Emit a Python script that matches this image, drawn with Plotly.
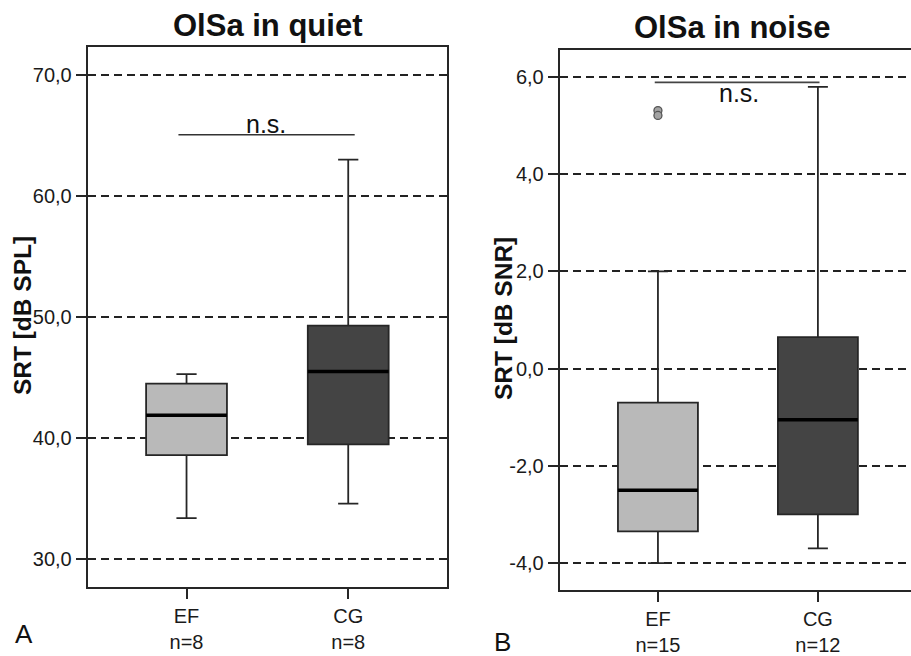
import plotly.graph_objects as go

# ---------------- data ----------------
groups = ["EF", "CG"]
quiet_labels = ["EF<br>n=8", "CG<br>n=8"]
noise_labels = ["EF<br>n=15", "CG<br>n=12"]

quiet_lower = [33.4, 34.6]
quiet_q1 = [38.6, 39.5]
quiet_median = [41.9, 45.5]
quiet_q3 = [44.5, 49.3]
quiet_upper = [45.3, 63.0]

noise_lower = [-4.0, -3.7]
noise_q1 = [-3.35, -3.0]
noise_median = [-2.5, -1.05]
noise_q3 = [-0.7, 0.65]
noise_upper = [2.0, 5.8]

noise_outliers_ef = [5.31, 5.21]

quiet_ticks = [30, 40, 50, 60, 70]
quiet_ticktext = ["30,0", "40,0", "50,0", "60,0", "70,0"]
noise_ticks = [-4, -2, 0, 2, 4, 6]
noise_ticktext = ["-4,0", "-2,0", "0,0", "2,0", "4,0", "6,0"]

ns_quiet = dict(x0=-0.05, x1=1.04, y=65.05, text_y=65.97)
ns_noise = dict(x0=-0.02, x1=1.01, y=5.89, text_y=5.675)

fills = ["#b9b9b9", "#444444"]
edge = "#262626"
FONT = "Liberation Sans, Arial, sans-serif"
BOX_W = 0.5

fig = go.Figure()

def add_panel(xa, ya, lower, q1, med, q3, upper):
    for i, g in enumerate(groups):
        fig.add_trace(go.Box(
            x=[i], q1=[q1[i]], median=[med[i]], q3=[q3[i]],
            lowerfence=[lower[i]], upperfence=[upper[i]],
            width=BOX_W, whiskerwidth=0.25, boxpoints=False,
            fillcolor=fills[i], line=dict(color=edge, width=1.8),
            xaxis=xa, yaxis=ya, showlegend=False, name=g))
        fig.add_trace(go.Scatter(
            x=[i - BOX_W / 2, i + BOX_W / 2], y=[med[i], med[i]],
            mode="lines", line=dict(color="#000000", width=3.5),
            xaxis=xa, yaxis=ya, showlegend=False, hoverinfo="skip"))

add_panel("x", "y", quiet_lower, quiet_q1, quiet_median, quiet_q3, quiet_upper)
add_panel("x2", "y2", noise_lower, noise_q1, noise_median, noise_q3, noise_upper)

fig.add_trace(go.Scatter(
    x=[0] * len(noise_outliers_ef), y=noise_outliers_ef, mode="markers",
    marker=dict(size=8, color="#a3a3a3", line=dict(color="#555555", width=1.3)),
    xaxis="x2", yaxis="y2", showlegend=False))

# significance lines
fig.add_trace(go.Scatter(x=[ns_quiet["x0"], ns_quiet["x1"]], y=[ns_quiet["y"]] * 2,
                         mode="lines", line=dict(color="#333333", width=1.6),
                         xaxis="x", yaxis="y", showlegend=False))
fig.add_trace(go.Scatter(x=[ns_noise["x0"], ns_noise["x1"]], y=[ns_noise["y"]] * 2,
                         mode="lines", line=dict(color="#444444", width=1.8),
                         xaxis="x2", yaxis="y2", showlegend=False))

axis_common = dict(showline=True, linecolor=edge, linewidth=2, ticks="outside",
                   ticklen=10, tickwidth=1.5, tickcolor=edge, zeroline=False,
                   tickfont=dict(family=FONT, size=20, color="#1a1a1a"))

grid = dict(showgrid=True, gridcolor="#222222", gridwidth=1.5, griddash="8px,5px")

fig.update_layout(
    width=911, height=656, margin=dict(l=0, r=0, t=0, b=0),
    paper_bgcolor="white", plot_bgcolor="white",
    xaxis=dict(domain=[0.0963, 0.4907], range=[-0.611, 1.611], tickvals=[0, 1],
               ticktext=quiet_labels, mirror=True, showgrid=False, anchor="y", **axis_common),
    yaxis=dict(domain=[0.0945, 0.9268], range=[27.74, 72.26], tickvals=quiet_ticks,
               ticktext=quiet_ticktext, mirror=True, anchor="x", **grid, **axis_common),
    xaxis2=dict(domain=[0.6144, 1.0], range=[-0.614, 1.582], tickvals=[0, 1],
                ticktext=noise_labels, mirror=True, showgrid=False, anchor="y2", **axis_common),
    yaxis2=dict(domain=[0.0889, 0.9227], range=[-4.563, 6.555], tickvals=noise_ticks,
                ticktext=noise_ticktext, mirror=False, anchor="x2", **grid, **axis_common),
)

def pann(text, x, y, size, angle=0):
    return dict(text=text, x=x / 911, y=1 - y / 656, xref="paper", yref="paper",
                xanchor="center", yanchor="middle", textangle=angle, showarrow=False,
                font=dict(family=FONT, size=size, color="#111"))

ann = [
    pann("<b>OlSa in quiet</b>", 267, 26, 31),
    pann("<b>OlSa in noise</b>", 732, 28, 31),
    pann("<b>SRT [dB SPL]</b>", 22, 320, 24.5, -90),
    pann("<b>SRT [dB SNR]</b>", 503, 322, 24.5, -90),
    pann("A", 23.5, 642, 26),
    pann("B", 502, 650, 26),
]
ann.append(dict(text="n.s.", x=0.49, y=ns_quiet["text_y"], xref="x", yref="y",
                xanchor="center", yanchor="middle",
                showarrow=False, font=dict(family=FONT, size=25, color="#111")))
ann.append(dict(text="n.s.", x=0.507, y=ns_noise["text_y"], xref="x2", yref="y2",
                xanchor="center", yanchor="middle",
                showarrow=False, font=dict(family=FONT, size=25, color="#111")))
fig.update_layout(annotations=ann)

fig.write_html("out.html")
